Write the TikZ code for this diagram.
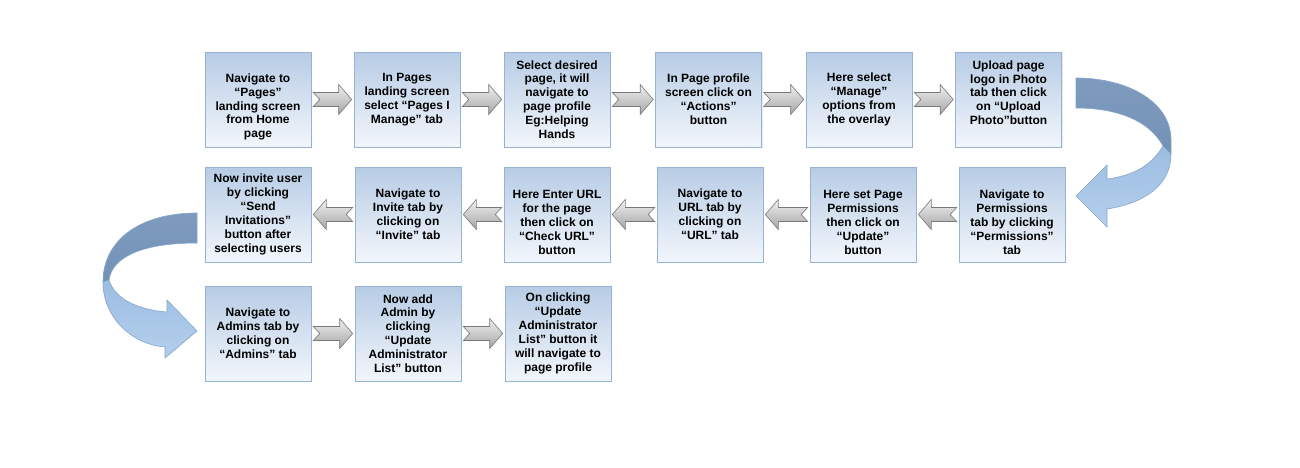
\documentclass[tikz,border=0pt]{standalone}
\usepackage{fontspec}
\setmainfont{Liberation Sans}
\usetikzlibrary{calc,shadows}
\definecolor{boxtop}{RGB}{183,204,229}
\definecolor{boxbot}{RGB}{242,246,251}
\definecolor{boxline}{RGB}{150,178,212}
\definecolor{gtop}{RGB}{240,240,240}
\definecolor{gmid}{RGB}{212,212,212}
\definecolor{gbot}{RGB}{165,165,165}
\definecolor{garline}{RGB}{120,120,120}
\definecolor{cdarkA}{RGB}{126,155,190}
\definecolor{cdarkB}{RGB}{116,146,182}
\definecolor{clightA}{RGB}{156,189,226}
\definecolor{clightB}{RGB}{180,207,236}
\definecolor{cline}{RGB}{132,166,206}
\newcommand\garr[2]{%
  \coordinate (gT) at (#1);
  \coordinate (gH) at (#2);
  \coordinate (gB) at ($(gH)!13pt!(gT)$);
  \path[garrow] ($(gT)!7pt!90:(gH)$) -- ($(gB)!7pt!-90:(gT)$) -- ($(gB)!15pt!-90:(gT)$)
    -- (gH) -- ($(gB)!15pt!90:(gT)$) -- ($(gB)!7pt!90:(gT)$) -- ($(gT)!7pt!-90:(gH)$)
    -- ($(gT)!6.5pt!(gH)$) -- cycle;}
\begin{document}
\begin{tikzpicture}[x=1pt,y=-1pt,
  box/.style={draw=boxline, line width=0.6pt, top color=boxtop, bottom color=boxbot,
    minimum width=106pt, minimum height=95pt, inner sep=0pt, align=center,
    font=\fontsize{12}{13.9}\selectfont\bfseries, text=black,
    drop shadow={shadow xshift=1.2pt, shadow yshift=-1.2pt, opacity=0.18, fill=gray}},
  garrow/.style={draw=garline, line width=0.6pt, top color=gtop, middle color=gmid, bottom color=gbot},
  ribdark/.style={draw=cline, line width=0.6pt, top color=cdarkA, bottom color=cdarkB},
  riblight/.style={draw=cline, line width=0.6pt, top color=clightA, bottom color=clightB}]
\fill[white] (0,0) rectangle (1300,467);
\useasboundingbox (0,0) rectangle (1300,467);
% row 1
\node[box] (b1) at (258,99.5) {\strut\\Navigate to\\“Pages”\\landing screen\\from Home\\page};
\node[box] (b2) at (407,99.5) {In Pages\\landing screen\\select “Pages I\\Manage” tab};
\node[box] (b3) at (557,99.5) {Select desired\\page, it will\\navigate to\\page profile\\Eg:Helping\\Hands};
\node[box] (b4) at (708.5,99.5) {In Page profile\\screen click on\\“Actions”\\button};
\node[box] (b5) at (859,99.5) {Here select\\“Manage”\\options from\\the overlay};
\node[box] (b6) at (1008.5,99.5) {Upload page\\logo in Photo\\tab then click\\on “Upload\\Photo”button\\\mbox{}};
% row 2
\node[box] (b7) at (1012,214.5) {\strut\\Navigate to\\Permissions\\tab by clicking\\“Permissions”\\tab};
\node[box] (b8) at (863,214.5) {\strut\\Here set Page\\Permissions\\then click on\\“Update”\\button};
\node[box] (b9) at (710,214.5) {Navigate to\\URL tab by\\clicking on\\“URL” tab};
\node[box] (b10) at (557,214.5) {\strut\\Here Enter URL\\for the page\\then click on\\“Check URL”\\button};
\node[box] (b11) at (408,214.5) {Navigate to\\Invite tab by\\clicking on\\“Invite” tab};
\node[box] (b12) at (258,214.5) {Now invite user\\by clicking\\“Send\\Invitations”\\button after\\selecting users};
% row 3
\node[box] (b13) at (258,333.5) {Navigate to\\Admins tab by\\clicking on\\“Admins” tab};
\node[box] (b14) at (408,333.5) {Now add\\Admin by\\clicking\\“Update\\Administrator\\List” button};
\node[box] (b15) at (558,333.5) {On clicking\\“Update\\Administrator\\List” button it\\will navigate to\\page profile};
% straight block arrows
\garr{[xshift=2pt]b1.east}{[xshift=-2pt]b2.west}
\garr{[xshift=2pt]b2.east}{[xshift=-2pt]b3.west}
\garr{[xshift=2pt]b3.east}{[xshift=-2pt]b4.west}
\garr{[xshift=2pt]b4.east}{[xshift=-2pt]b5.west}
\garr{[xshift=2pt]b5.east}{[xshift=-2pt]b6.west}
\garr{[xshift=-2pt]b7.west}{[xshift=2pt]b8.east}
\garr{[xshift=-2pt]b8.west}{[xshift=2pt]b9.east}
\garr{[xshift=-2pt]b9.west}{[xshift=2pt]b10.east}
\garr{[xshift=-2pt]b10.west}{[xshift=2pt]b11.east}
\garr{[xshift=-2pt]b11.west}{[xshift=2pt]b12.east}
\garr{[xshift=2pt]b13.east}{[xshift=-2pt]b14.west}
\garr{[xshift=2pt]b14.east}{[xshift=-2pt]b15.west}
% right curved ribbon arrow (b6 -> b7)
\path[ribdark] (1076,78) .. controls (1128,78) and (1171,102) .. (1171,140) -- (1171,154)
  -- (1163,146) .. controls (1150,122) and (1120,108) .. (1076,108) -- cycle;
\path[riblight] (1163,146) .. controls (1150,168) and (1130,176) .. (1107,179) -- (1107,165)
  -- (1076,196) -- (1107,227) -- (1107,209) .. controls (1145,203) and (1171,185) .. (1171,154) -- cycle;
% left curved ribbon arrow (b12 -> b13)
\path[ribdark] (197,213) .. controls (140,213) and (103,240) .. (103,282) -- (109,280)
  .. controls (112,258) and (140,243) .. (197,243) -- cycle;
\path[riblight] (103,282) .. controls (103,320) and (135,345) .. (165,347) -- (165,358)
  -- (197,331) -- (167,300) -- (167,312) .. controls (140,310) and (115,300) .. (109,280) -- cycle;
\end{tikzpicture}
\end{document}
